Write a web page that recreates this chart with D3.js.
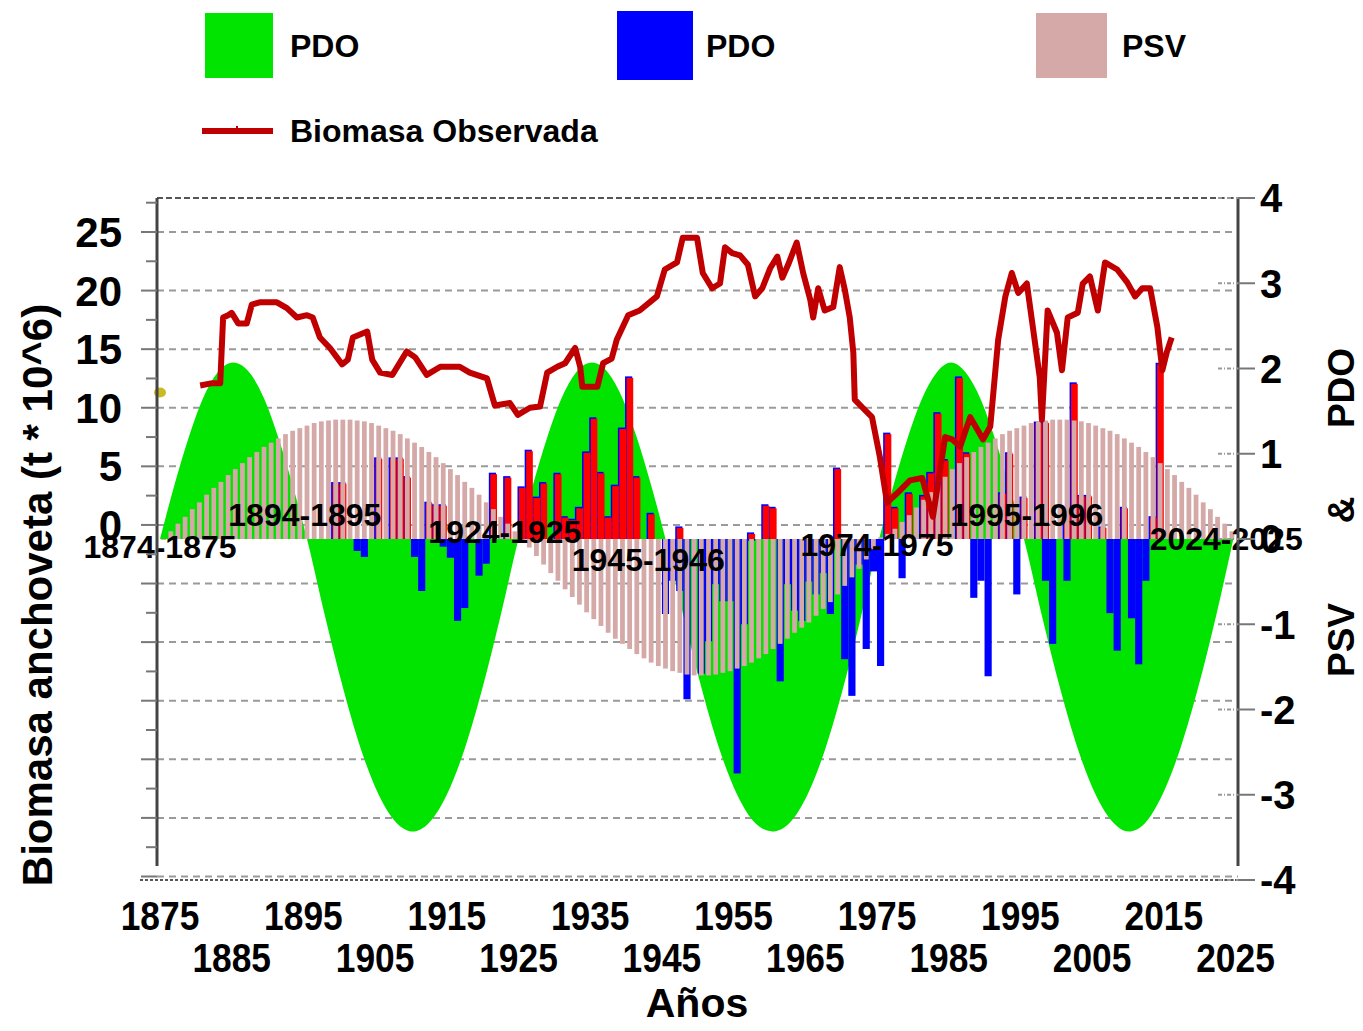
<!DOCTYPE html>
<html>
<head>
<meta charset="utf-8">
<script src="https://cdn.jsdelivr.net/npm/d3@7"></script>
<style>
  body { margin: 0; background: #fff; }
  text { font-family: "Liberation Sans", Arial, sans-serif; font-weight: bold; fill: #000; }
</style>
</head>
<body>
<svg id="chart" width="1363" height="1031"></svg>
<script>
// ---- data ----
// PDO cycle (green area), right axis
const pdoCycleYears = [1875, 1877, 1879, 1881, 1883, 1885.2, 1887.5, 1889.5, 1891.5, 1893.5, 1895.5,
  1898, 1900.5, 1903, 1905.5, 1908, 1910.25, 1912.5, 1915, 1917.5, 1920, 1922.5, 1925,
  1927, 1929, 1931, 1933, 1935.25, 1937.5, 1939.5, 1941.5, 1943.5, 1945.5,
  1948, 1950.5, 1953, 1955.5, 1958, 1960.4, 1962.8, 1965.3, 1967.8, 1970.3, 1972.8, 1975.3,
  1977.3, 1979.3, 1981.3, 1983.3, 1985.3, 1987.4, 1989.4, 1991.4, 1993.4, 1995.5,
  1998, 2000.5, 2003, 2005.5, 2008, 2010.1, 2012.4, 2014.8, 2017.3, 2019.8, 2022.3, 2024.7];
const pdoCycleValues = [0, 0.63, 1.19, 1.65, 1.95, 2.07, 1.95, 1.65, 1.19, 0.63, 0,
  -0.90, -1.74, -2.46, -3.00, -3.33, -3.43, -3.33, -3.00, -2.46, -1.74, -0.90, 0,
  0.63, 1.19, 1.65, 1.95, 2.07, 1.95, 1.65, 1.19, 0.63, 0,
  -0.90, -1.74, -2.46, -3.00, -3.33, -3.43, -3.33, -3.00, -2.46, -1.74, -0.90, 0,
  0.63, 1.19, 1.65, 1.95, 2.07, 1.95, 1.65, 1.19, 0.63, 0,
  -0.90, -1.74, -2.46, -3.00, -3.33, -3.43, -3.33, -3.00, -2.46, -1.74, -0.90, 0];

// PSV yearly bars (pink), 1875..2024, right axis
const psvYears = d3.range(1875, 2025);
const psvValues = [
  0.00, 0.09, 0.18, 0.26, 0.35, 0.43, 0.52, 0.60, 0.67, 0.75,
  0.82, 0.89, 0.96, 1.02, 1.08, 1.13, 1.18, 1.23, 1.27, 1.30,
  1.33, 1.36, 1.38, 1.39, 1.40, 1.40, 1.40, 1.39, 1.38, 1.36,
  1.33, 1.30, 1.27, 1.23, 1.18, 1.13, 1.08, 1.02, 0.96, 0.89,
  0.82, 0.75, 0.67, 0.60, 0.52, 0.43, 0.35, 0.26, 0.18, 0.09,
  0.00, -0.10, -0.20, -0.30, -0.40, -0.49, -0.59, -0.68, -0.77, -0.86,
  -0.94, -1.02, -1.10, -1.17, -1.23, -1.29, -1.35, -1.40, -1.45, -1.49,
  -1.52, -1.55, -1.57, -1.59, -1.60, -1.60, -1.60, -1.59, -1.57, -1.55,
  -1.52, -1.49, -1.45, -1.40, -1.35, -1.29, -1.23, -1.17, -1.10, -1.04,
  -0.98, -0.90, -0.82, -0.74, -0.65, -0.55, -0.45, -0.35, -0.24, -0.12,
  0.02, 0.06, 0.12, 0.20, 0.28, 0.37, 0.46, 0.55, 0.64, 0.73,
  0.82, 0.89, 0.96, 1.02, 1.08, 1.13, 1.18, 1.23, 1.27, 1.30,
  1.33, 1.36, 1.38, 1.39, 1.40, 1.40, 1.40, 1.39, 1.38, 1.36,
  1.33, 1.30, 1.27, 1.23, 1.18, 1.13, 1.08, 1.02, 0.96, 0.89,
  0.82, 0.75, 0.67, 0.60, 0.52, 0.43, 0.35, 0.26, 0.18, 0.09];

// observed PDO, positive years (red) and negative years (blue), right axis
const pdoPosYears = [1899, 1900, 1905, 1907, 1908, 1909, 1912, 1913, 1914, 1921, 1923, 1925, 1926, 1927, 1928,
  1930, 1931, 1932, 1933, 1934, 1935, 1936, 1937, 1938, 1939, 1940, 1941, 1943, 1947, 1957, 1959, 1960,
  1969, 1976, 1977, 1979, 1981, 1982, 1983, 1984, 1986, 1987, 1992, 1993, 1995, 1997, 1998, 2001, 2002,
  2003, 2004, 2006, 2009, 2013, 2014];
const pdoPosValues = [0.65, 0.65, 0.94, 0.94, 0.94, 0.72, 0.42, 0.39, 0.39, 0.76, 0.72, 0.60, 1.03, 0.48, 0.65,
  0.76, 0.25, 0.22, 0.36, 1.01, 1.41, 0.77, 0.25, 0.62, 1.29, 1.89, 0.72, 0.29, 0.13, 0.06, 0.39, 0.36,
  0.82, 1.23, 0.36, 0.53, 0.50, 0.77, 1.47, 0.92, 1.89, 1.00, 0.53, 1.00, 0.48, 1.36, 1.36, 0.30, 1.82,
  0.50, 0.50, 0.13, 0.36, 0.25, 2.05];
const pdoNegYears = [1902, 1903, 1910, 1911, 1914, 1915, 1916, 1917, 1919, 1920,
  1945, 1946, 1947, 1948, 1950, 1951, 1952, 1953, 1954, 1955, 1956, 1957, 1961, 1962, 1963, 1964, 1965,
  1966, 1967, 1968, 1970, 1971, 1972, 1973, 1974, 1975, 1978, 1988, 1989, 1990, 1994, 1998, 1999, 2001,
  2007, 2008, 2010, 2011, 2012];
const pdoNegValues = [-0.14, -0.21, -0.21, -0.61, -0.09, -0.22, -0.96, -0.81, -0.43, -0.29,
  -0.88, -0.49, -0.61, -1.88, -1.58, -1.20, -0.53, -0.73, -0.73, -2.75, -1.00, -0.02, -1.67, -0.53, -0.84, -0.96, -0.50,
  -0.65, -0.40, -0.88, -1.41, -1.84, -0.30, -1.29, -0.38, -1.49, -0.46, -0.69, -0.49, -1.61, -0.65, -0.49, -1.23, -0.49,
  -0.87, -1.31, -0.93, -1.47, -0.49];

// observed anchovy biomass (t * 10^6), left axis
const bioYears = [1880.6, 1882.3, 1883.4, 1883.8, 1884.5, 1885.0, 1885.9, 1887.1, 1887.8, 1888.9, 1891.3, 1892.7,
  1894.1, 1895.5, 1896.3, 1897.3, 1898.7, 1900.4, 1901.2, 1901.9, 1903.9, 1904.6, 1905.7, 1907.4, 1909.4,
  1910.6, 1912.2, 1914.1, 1916.8, 1918.2, 1920.6, 1921.7, 1923.8, 1924.9, 1926.6, 1928.0, 1929.0, 1930.4,
  1931.5, 1932.9, 1933.6, 1933.9, 1936.0, 1936.8, 1938.0, 1938.7, 1940.3, 1941.9, 1944.3, 1945.4, 1947.1,
  1947.9, 1949.9, 1950.7, 1952.0, 1953.1, 1953.8, 1954.8, 1955.9, 1957.0, 1958.0, 1959.0, 1960.1, 1961.1,
  1961.8, 1962.6, 1963.8, 1964.7, 1965.7, 1966.1, 1966.8, 1967.7, 1968.9, 1969.8, 1970.5, 1971.2, 1971.7,
  1971.9, 1973.0, 1974.3, 1975.4, 1976.4, 1977.8, 1979.6, 1981.3, 1982.8, 1984.5, 1985.5, 1986.6, 1988.0,
  1989.8, 1990.8, 1991.9, 1992.9, 1993.8, 1994.7, 1995.9, 1996.8, 1997.7, 1998.0, 1998.8, 2000.1, 2000.8,
  2001.6, 2003.0, 2003.7, 2004.7, 2005.8, 2006.8, 2008.5, 2009.9, 2011.0, 2012.0, 2013.1, 2014.1, 2014.8,
  2015.4, 2016.1];
const bioValues = [11.9, 12.1, 12.1, 17.7, 17.9, 18.1, 17.2, 17.2, 18.8, 19.0, 19.0, 18.5,
  17.7, 17.9, 17.7, 16.0, 15.1, 13.7, 14.1, 16.0, 16.5, 14.1, 13.0, 12.8, 14.8,
  14.3, 12.8, 13.5, 13.5, 13.0, 12.5, 10.2, 10.4, 9.4, 10.0, 10.1, 13.0, 13.5,
  13.8, 15.1, 13.5, 11.8, 11.8, 13.8, 14.2, 15.8, 17.9, 18.3, 19.5, 21.8, 22.4,
  24.5, 24.5, 21.5, 20.2, 20.6, 23.7, 23.2, 23.0, 22.2, 19.5, 20.2, 21.9, 22.9,
  21.1, 22.2, 24.1, 21.5, 19.2, 17.7, 20.2, 18.3, 18.6, 22.0, 20.1, 17.7, 14.7,
  10.7, 10.0, 9.2, 5.8, 1.9, 2.7, 3.8, 4.0, 0.7, 7.5, 7.3, 6.7, 9.2,
  7.3, 8.4, 15.8, 19.5, 21.5, 19.8, 20.6, 16.6, 12.6, 9.0, 18.3, 16.4, 13.2,
  17.7, 18.1, 20.6, 21.2, 18.3, 22.4, 21.8, 20.7, 19.5, 20.2, 20.2, 16.9, 13.2,
  14.7, 16.0];

// period labels along the zero line
const periodLabels = ["1874-1875", "1894-1895", "1924-1925", "1945-1946", "1974-1975", "1995-1996", "2024-2025"];

const leftTicks = [0, 5, 10, 15, 20, 25];
const rightTicks = [-4, -3, -2, -1, 0, 1, 2, 3, 4];
const yearTicks = d3.range(1875, 2026, 10);

// ---- layout ----
const svg = d3.select("#chart");
const x = d3.scaleLinear().domain([1874.58, 2025.35]).range([157, 1238]);
const yR = d3.scaleLinear().domain([-4, 4]).range([880, 198]);
const yL = d3.scaleLinear().domain([-30.3, 27.9]).range([880, 198]);

const GREEN = "#00e400", BLUE = "#0000ff", RED = "#ff0000", PINK = "#d5a9a7", LINE = "#c00000";

// gridlines
const gridVals = d3.range(-30, 26, 5);
svg.append("g").selectAll("line")
  .data(gridVals)
  .enter().append("line")
  .attr("x1", 157).attr("x2", 1238)
  .attr("y1", d => yL(d)).attr("y2", d => yL(d))
  .attr("stroke", "#9a9a9a").attr("stroke-width", 2)
  .attr("stroke-dasharray", "7,5");

svg.append("line").attr("x1", 157).attr("x2", 1238).attr("y1", 198).attr("y2", 198)
  .attr("stroke", "#555").attr("stroke-width", 2).attr("stroke-dasharray", "6,3");
svg.append("line").attr("x1", 140).attr("x2", 1255).attr("y1", 880).attr("y2", 880)
  .attr("stroke", "#555").attr("stroke-width", 2).attr("stroke-dasharray", "3,2");

// PDO cycle area
const cycle = pdoCycleYears.map((d, i) => ({ year: d, v: pdoCycleValues[i] }));
svg.append("path")
  .datum(cycle)
  .attr("fill", GREEN)
  .attr("d", d3.area()
    .x(d => x(d.year))
    .y0(yR(0))
    .y1(d => yR(d.v))
    .curve(d3.curveMonotoneX));

// observed PDO bars
const barW = x(1876) - x(1875);
const neg = pdoNegYears.map((d, i) => ({ year: d, v: pdoNegValues[i] }));
svg.append("g").selectAll("rect")
  .data(neg)
  .enter().append("rect")
  .attr("x", d => x(d.year))
  .attr("width", barW)
  .attr("y", yR(0))
  .attr("height", d => yR(d.v) - yR(0))
  .attr("fill", BLUE);

const pos = pdoPosYears.map((d, i) => ({ year: d, v: pdoPosValues[i] }));
const posG = svg.append("g");
posG.selectAll("rect.edge")
  .data(pos)
  .enter().append("rect")
  .attr("class", "edge")
  .attr("x", d => x(d.year) - 1)
  .attr("width", barW)
  .attr("y", d => yR(d.v) - 1.5)
  .attr("height", d => yR(0) - yR(d.v) + 1.5)
  .attr("fill", BLUE);
posG.selectAll("rect.bar")
  .data(pos)
  .enter().append("rect")
  .attr("class", "bar")
  .attr("x", d => x(d.year) + 0.5)
  .attr("width", barW - 0.5)
  .attr("y", d => yR(d.v))
  .attr("height", d => yR(0) - yR(d.v))
  .attr("fill", RED);

// PSV bars
const psv = psvYears.map((d, i) => ({ year: d, v: psvValues[i] }));
svg.append("g").selectAll("rect")
  .data(psv)
  .enter().append("rect")
  .attr("x", d => x(d.year) + 1.2)
  .attr("width", barW - 2.4)
  .attr("y", d => Math.min(yR(d.v), yR(0)))
  .attr("height", d => Math.max(1, Math.abs(yR(d.v) - yR(0))))
  .attr("fill", PINK);

// biomass line
const bio = bioYears.map((d, i) => ({ year: d, v: bioValues[i] }));
svg.append("path")
  .datum(bio)
  .attr("fill", "none")
  .attr("stroke", LINE)
  .attr("stroke-width", 6)
  .attr("stroke-linejoin", "round")
  .attr("d", d3.line().x(d => x(d.year)).y(d => yL(d.v)));

// small marker on the left axis
svg.append("ellipse")
  .attr("cx", x(1875)).attr("cy", yL(11.3))
  .attr("rx", 6).attr("ry", 5)
  .attr("fill", "#c9bb22");

// period labels
const labelPos = [[1875, 7], [1895.2, -25], [1923.1, -8], [1943.1, 20], [1975, 5], [1995.9, -25], [2023.7, -1]];
svg.append("g").selectAll("text")
  .data(periodLabels)
  .enter().append("text")
  .attr("x", (d, i) => x(labelPos[i][0]))
  .attr("y", (d, i) => yR(0) + labelPos[i][1])
  .attr("dy", "0.36em")
  .attr("text-anchor", "middle")
  .style("font-size", "32px")
  .text(d => d);

// left axis
const leftAxis = svg.append("g").attr("transform", "translate(157,0)");
leftAxis.append("line").attr("y1", 198).attr("y2", 866)
  .attr("stroke", "#444").attr("stroke-width", 3);
leftAxis.selectAll("line.major")
  .data(d3.range(-30, 26, 5))
  .enter().append("line")
  .attr("x1", -16).attr("x2", 0)
  .attr("y1", d => yL(d)).attr("y2", d => yL(d))
  .attr("stroke", "#777").attr("stroke-width", 2);
leftAxis.selectAll("line.minor")
  .data(d3.range(-27.5, 28, 5))
  .enter().append("line")
  .attr("x1", -11).attr("x2", 0)
  .attr("y1", d => yL(d)).attr("y2", d => yL(d))
  .attr("stroke", "#777").attr("stroke-width", 2);
leftAxis.selectAll("text")
  .data(leftTicks)
  .enter().append("text")
  .attr("x", -35)
  .attr("y", d => yL(d))
  .attr("dy", "0.36em")
  .attr("text-anchor", "end")
  .style("font-size", "42px")
  .text(d => d);

// right axis
const rightAxis = svg.append("g").attr("transform", "translate(1238,0)");
rightAxis.append("line").attr("y1", 198).attr("y2", 866)
  .attr("stroke", "#444").attr("stroke-width", 3);
rightAxis.selectAll("line.tick")
  .data(rightTicks)
  .enter().append("line")
  .attr("x1", 0).attr("x2", 17)
  .attr("y1", d => yR(d)).attr("y2", d => yR(d))
  .attr("stroke", "#777").attr("stroke-width", 2);
rightAxis.selectAll("line.inner")
  .data(rightTicks)
  .enter().append("line")
  .attr("x1", -20).attr("x2", 0)
  .attr("y1", d => yR(d)).attr("y2", d => yR(d))
  .attr("stroke", "#999").attr("stroke-width", 2)
  .attr("stroke-dasharray", "4,2,1,2");
rightAxis.selectAll("text")
  .data(rightTicks)
  .enter().append("text")
  .attr("x", 22)
  .attr("y", d => yR(d))
  .attr("dy", "0.36em")
  .style("font-size", "40px")
  .text(d => d);

// bottom year labels (two rows)
svg.append("g").selectAll("text")
  .data(yearTicks)
  .enter().append("text")
  .attr("transform", (d, i) => "translate(" + x(d) + "," + (i % 2 ? 972 : 930) + ") scale(0.93,1.08)")
  .attr("text-anchor", "middle")
  .style("font-size", "38px")
  .text(d => d);

svg.append("text")
  .attr("x", 697).attr("y", 1017)
  .attr("text-anchor", "middle")
  .style("font-size", "41px")
  .text("Años");

// axis titles
svg.append("text")
  .attr("transform", "translate(37,595) rotate(-90)")
  .attr("text-anchor", "middle")
  .attr("dy", "0.36em")
  .style("font-size", "42px")
  .text("Biomasa anchoveta (t * 10^6)");

const rightTitle = [["PDO", 388], ["&", 510], ["PSV", 640]];
svg.append("g").selectAll("text")
  .data(rightTitle)
  .enter().append("text")
  .attr("transform", d => "translate(1341," + d[1] + ") rotate(-90)")
  .attr("text-anchor", "middle")
  .attr("dy", "0.36em")
  .style("font-size", "37px")
  .text(d => d[0]);

// legend
const legendBoxes = [
  { x: 205, y: 13, w: 68, h: 65, c: GREEN, t: "PDO", tx: 290 },
  { x: 617, y: 11, w: 76, h: 69, c: BLUE, t: "PDO", tx: 706 },
  { x: 1036, y: 13, w: 71, h: 65, c: PINK, t: "PSV", tx: 1122 }
];
const lg = svg.append("g");
lg.selectAll("rect")
  .data(legendBoxes)
  .enter().append("rect")
  .attr("x", d => d.x).attr("y", d => d.y)
  .attr("width", d => d.w).attr("height", d => d.h)
  .attr("fill", d => d.c);
lg.selectAll("text.box")
  .data(legendBoxes)
  .enter().append("text")
  .attr("x", d => d.tx).attr("y", 45)
  .attr("dy", "0.36em")
  .style("font-size", "32px")
  .text(d => d.t);
lg.append("line")
  .attr("x1", 202).attr("x2", 273).attr("y1", 131).attr("y2", 131)
  .attr("stroke", LINE).attr("stroke-width", 6);
lg.append("line")
  .attr("x1", 237).attr("x2", 237).attr("y1", 126).attr("y2", 131)
  .attr("stroke", LINE).attr("stroke-width", 2);
lg.append("text")
  .attr("x", 290).attr("y", 130)
  .attr("dy", "0.36em")
  .style("font-size", "32px")
  .text("Biomasa Observada");
</script>
</body>
</html>
